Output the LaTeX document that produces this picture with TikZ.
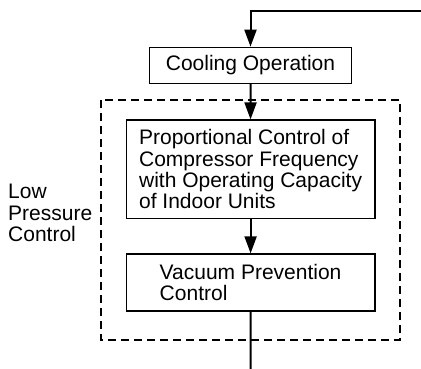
\documentclass[tikz,border=0pt]{standalone}
\usepackage{fontspec}
\setmainfont{Liberation Sans}
\usetikzlibrary{arrows.meta}
\tikzset{
  stepbox/.style={draw, line width=1.3pt, inner sep=0pt, align=left,
    font=\fontsize{21}{21.4}\selectfont},
  flow/.style={line width=2pt, -{Triangle[length=17pt,width=12pt]}},
  plainflow/.style={line width=2pt}
}
\begin{document}
\begin{tikzpicture}[x=1pt, y=-1pt]
    \def\boxwidth{248.7}
    \useasboundingbox (0,0) rectangle (421,369);

    % Draw the dashed control area
    \draw[line width=1.5pt, dash pattern=on 8pt off 5pt] (101,100) rectangle (400,340);

    \node[stepbox, minimum width=201.6pt, minimum height=36pt] (cool) at (250.5,65.3) {Cooling Operation};
    \node[stepbox, minimum width=\boxwidth pt, minimum height=98.3pt] (prop) at (250.6,169.2)
        {Proportional Control of\\Compressor Frequency\\with Operating Capacity\\of Indoor Units};
    \node[stepbox, minimum width=\boxwidth pt, minimum height=57pt] (vac) at (250.6,282.5)
        {Vacuum Prevention\\Control};

    \node[anchor=west, align=left, inner sep=0pt, font=\fontsize{21}{21.4}\selectfont] (lpc) at (8,213)
        {Low\\Pressure\\Control};

    % Connectors
    \coordinate (feed) at (421,11);
    \coordinate (out) at (250.5,369);
    \draw[flow] (feed) -| (cool.north);
    \draw[flow] (cool) -- (prop);
    \draw[flow] (prop) -- (vac);
    \draw[plainflow] (vac) -- (out);
\end{tikzpicture}
\end{document}
